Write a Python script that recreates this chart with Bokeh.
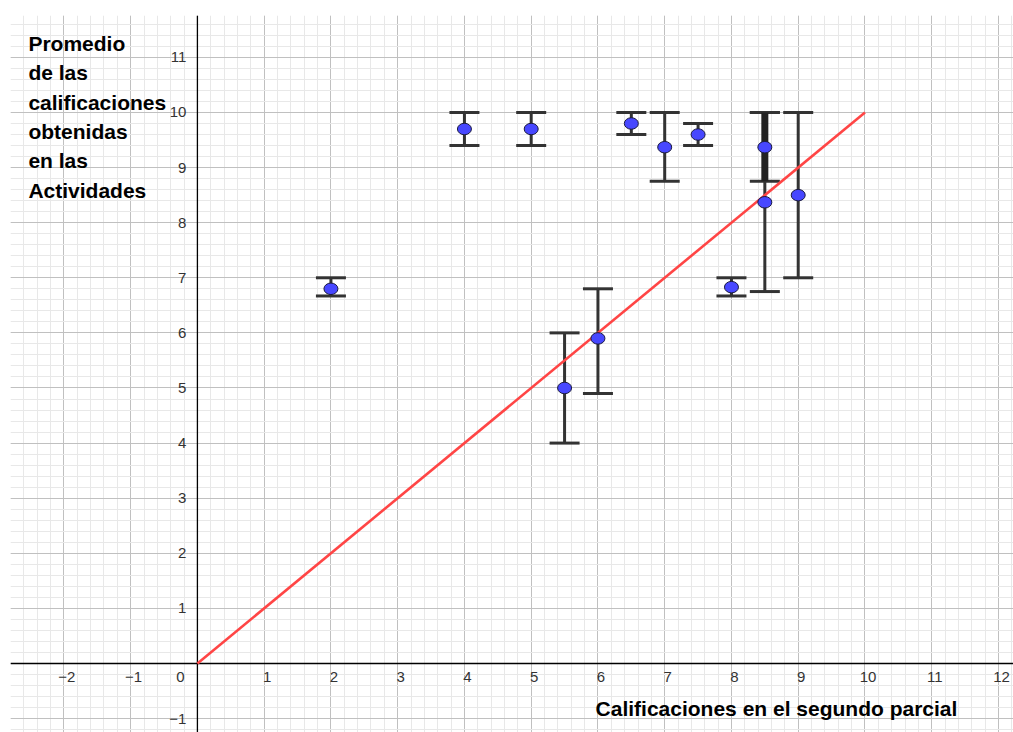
from bokeh.plotting import figure
from bokeh.models import (Range1d, SingleIntervalTicker, Span, Whisker, ColumnDataSource,
                          Label, TeeHead)
from bokeh.embed import file_html
from bokeh.resources import INLINE
from bokeh.core.properties import value

# ---- data ----
x_vals = [2, 4, 5, 5.5, 6, 6.5, 7, 7.5, 8, 8.5, 8.5, 9]
y_vals = [6.8, 9.7, 9.7, 5.0, 5.9, 9.8, 9.37, 9.6, 6.83, 9.37, 8.37, 8.5]
low_vals = [6.67, 9.4, 9.4, 4.0, 4.9, 9.6, 8.75, 9.4, 6.67, 8.75, 6.75, 7.0]
high_vals = [7.0, 10.0, 10.0, 6.0, 6.8, 10.0, 10.0, 9.8, 7.0, 10.0, 10.0, 10.0]
ref_x = [0, 10]
ref_y = [0, 10]
x_ticks = [-2, -1, 1, 2, 3, 4, 5, 6, 7, 8, 9, 10, 11, 12]
x_tick_labels = ["\u22122", "\u22121", "1", "2", "3", "4", "5", "6", "7", "8", "9", "10", "11", "12"]
y_ticks = [-1, 1, 2, 3, 4, 5, 6, 7, 8, 9, 10, 11]
y_tick_labels = ["\u22121", "1", "2", "3", "4", "5", "6", "7", "8", "9", "10", "11"]
y_title_lines = ["Promedio", "de las", "calificaciones", "obtenidas", "en las", "Actividades"]
x_title = "Calificaciones en el segundo parcial"

FONT = "Liberation Sans"
xpx, ypx = 66.75, 55.09   # pixels per unit

p = figure(width=1013, height=732, output_backend="svg", toolbar_location=None,
           x_range=Range1d(-2.80, 12.225), y_range=Range1d(-1.2525, 11.76),
           min_border_left=10, min_border_right=0, min_border_top=15, min_border_bottom=0)
p.axis.visible = False
p.outline_line_color = None
p.background_fill_color = "white"
p.border_fill_color = "white"

for g in (p.xgrid, p.ygrid):
    g.ticker = SingleIntervalTicker(interval=1, num_minor_ticks=5)
    g.grid_line_color = "#c0c0c0"
    g.grid_line_width = 1
    g.minor_grid_line_color = "#e8e8e8"
    g.minor_grid_line_width = 1

# axes lines
p.add_layout(Span(location=0, dimension="width", line_color="black", line_width=1.3, level="underlay"))
p.add_layout(Span(location=0, dimension="height", line_color="black", line_width=1.3, level="underlay"))

src = ColumnDataSource(dict(x=x_vals, y=y_vals, low=low_vals, high=high_vals))

# error bars
bar_col = "#333333"
w = Whisker(base="x", upper="high", lower="low", source=src, dimension="height",
            line_color=bar_col, line_width=3,
            upper_head=TeeHead(size=30, line_color=bar_col, line_width=3),
            lower_head=TeeHead(size=30, line_color=bar_col, line_width=3))
p.add_layout(w)

# emphasised overlap at x = 8.5 (first bar)
thick_idx = 9
p.segment(x0=[x_vals[thick_idx]], y0=[low_vals[thick_idx]], x1=[x_vals[thick_idx]], y1=[high_vals[thick_idx]],
          line_color="#222222", line_width=7)

# reference line y = x
p.line(ref_x, ref_y, line_color="#ff4545", line_width=2.6)

# points
p.ellipse(x="x", y="y", width=14, height=11.5, width_units="screen", height_units="screen",
          source=src, fill_color="#4747ff", line_color="#1a1a40", line_width=1)

# tick labels
p.text(x=[t + 3 / xpx for t in x_ticks], y=[-14 / ypx] * len(x_ticks), text=x_tick_labels,
       text_font=value(FONT), text_font_size="15px", text_color="#333333",
       text_align="center", text_baseline="middle")
p.text(x=[-17 / xpx], y=[-14 / ypx], text=["0"],
       text_font=value(FONT), text_font_size="15px", text_color="#333333",
       text_align="center", text_baseline="middle")
p.text(x=[-11 / xpx] * len(y_ticks), y=y_ticks, text=y_tick_labels,
       text_font=value(FONT), text_font_size="15px", text_color="#333333",
       text_align="right", text_baseline="middle")

# axis titles
y_top = 11.254
step = 0.5335
for i, line in enumerate(y_title_lines):
    p.add_layout(Label(x=-169 / xpx, y=y_top - i * step, text=line, text_font=FONT,
                       text_font_size="21px", text_font_style="bold", text_color="black",
                       text_align="left", text_baseline="middle"))
p.add_layout(Label(x=579 / xpx, y=-45 / ypx, text=x_title, text_font=FONT,
                   text_font_size="21px", text_font_style="bold", text_color="black",
                   text_align="center", text_baseline="middle"))

open("out.html", "w").write(file_html(p, INLINE))
